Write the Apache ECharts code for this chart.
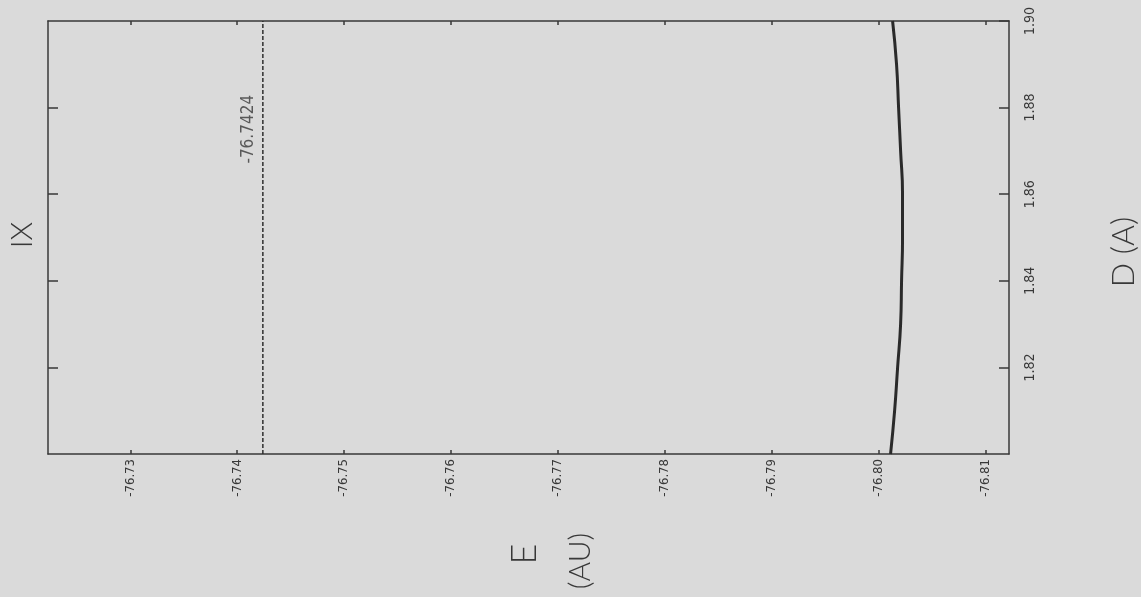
<!DOCTYPE html>
<html>
<head>
<meta charset="utf-8">
<script src="https://cdn.jsdelivr.net/npm/echarts@6/dist/echarts.min.js"></script>
<style>
  html, body { margin: 0; padding: 0; background: #dadada; }
  #chart { width: 1141px; height: 597px; }
</style>
</head>
<body>
<div id="chart"></div>
<script>
// Bond length D (Angstrom) and total energy E (atomic units) along the scan
const bondLengths = [1.80, 1.81, 1.82, 1.83, 1.84, 1.85, 1.86, 1.87, 1.88, 1.89, 1.90];
const energies = [-76.80112, -76.80150, -76.80178, -76.80206, -76.80215, -76.80224,
                  -76.80224, -76.80206, -76.80187, -76.80168, -76.80131];

// Reference energy drawn as a dashed vertical line
const referenceEnergy = -76.7424;
const referenceLabel = '-76.7424';

// Tick positions
const energyTicks = [-76.73, -76.74, -76.75, -76.76, -76.77, -76.78, -76.79, -76.80, -76.81];
const energyTickLabels = ['-76.73', '-76.74', '-76.75', '-76.76', '-76.77', '-76.78', '-76.79', '-76.80', '-76.81'];
const lengthTicks = [1.82, 1.84, 1.86, 1.88, 1.90];
const lengthTickLabels = ['1.82', '1.84', '1.86', '1.88', '1.90'];

const energyRange = [-76.8122, -76.7223];
const lengthRange = [1.80, 1.90];

const ink = '#383838';
const tickFont = '"Liberation Sans Narrow", "DejaVu Sans Condensed", "DejaVu Sans", sans-serif';
const titleFont = 'Lato, "DejaVu Sans", sans-serif';

const chart = echarts.init(document.getElementById('chart'), null, { renderer: 'canvas' });

function energyAxis(position, showLabels) {
  return {
    type: 'value',
    position: position,
    inverse: true,
    min: energyRange[0],
    max: energyRange[1],
    splitLine: { show: false },
    axisLine: { show: true, onZero: false, lineStyle: { color: ink, width: 1.5 } },
    axisTick: {
      show: true, inside: true, length: 4,
      customValues: energyTicks,
      lineStyle: { color: ink, width: 1.5 }
    },
    axisLabel: {
      show: showLabels,
      customValues: energyTicks,
      rotate: 90,
      margin: 5,
      color: ink,
      fontFamily: tickFont,
      fontSize: 13,
      formatter: function (v) {
        const i = energyTicks.findIndex(t => Math.abs(t - v) < 1e-6);
        return i >= 0 ? energyTickLabels[i] : '';
      }
    }
  };
}

function lengthAxis(position, showLabels) {
  return {
    type: 'value',
    position: position,
    min: lengthRange[0],
    max: lengthRange[1],
    splitLine: { show: false },
    axisLine: { show: true, onZero: false, lineStyle: { color: ink, width: 1.5 } },
    axisTick: {
      show: true, inside: true, length: 10,
      customValues: showLabels ? lengthTicks : lengthTicks.slice(0, 4),
      lineStyle: { color: ink, width: 1.5 }
    },
    axisLabel: {
      show: showLabels,
      customValues: lengthTicks,
      rotate: 90,
      margin: 14,
      color: ink,
      fontFamily: tickFont,
      fontSize: 14,
      formatter: function (v) {
        const i = lengthTicks.findIndex(t => Math.abs(t - v) < 1e-6);
        return i >= 0 ? lengthTickLabels[i] : '';
      }
    }
  };
}

const curve = bondLengths.map((d, i) => [energies[i], d]);

const option = {
  backgroundColor: '#dadada',
  animation: false,
  grid: { left: 48, right: 132, top: 21, bottom: 143 },
  xAxis: [energyAxis('bottom', true), energyAxis('top', false)],
  yAxis: [lengthAxis('left', false), lengthAxis('right', true)],
  series: [
    {
      type: 'line',
      xAxisIndex: 0,
      yAxisIndex: 1,
      data: curve,
      smooth: true,
      symbol: 'none',
      lineStyle: { color: '#2a2a2a', width: 3 }
    },
    {
      type: 'line',
      xAxisIndex: 0,
      yAxisIndex: 1,
      data: [[referenceEnergy, lengthRange[0]], [referenceEnergy, lengthRange[1]]],
      symbol: 'none',
      lineStyle: { color: '#2e2e2e', width: 1.5, type: [4, 2] }
    },
    {
      type: 'scatter',
      xAxisIndex: 0,
      yAxisIndex: 1,
      data: [[referenceEnergy, 1.875]],
      symbolSize: 0,
      label: {
        show: true,
        position: 'left',
        distance: 14,
        rotate: 90,
        align: 'center',
        verticalAlign: 'middle',
        color: ink,
        fontFamily: tickFont,
        fontSize: 17,
        formatter: referenceLabel
      }
    }
  ],
  graphic: [
    {
      type: 'text', x: 22, y: 235, rotation: Math.PI / 2,
      style: { text: 'IX', font: '300 30px ' + titleFont, fill: ink, align: 'center', verticalAlign: 'middle' }
    },
    {
      type: 'text', x: 524, y: 554, rotation: Math.PI / 2,
      style: { text: 'E', font: '300 36px ' + titleFont, fill: ink, align: 'center', verticalAlign: 'middle' }
    },
    {
      type: 'text', x: 580, y: 561, rotation: Math.PI / 2,
      style: { text: '(AU)', font: '300 30px ' + titleFont, fill: ink, align: 'center', verticalAlign: 'middle' }
    },
    {
      type: 'text', x: 1124, y: 252, rotation: Math.PI / 2,
      style: { text: 'D (A)', font: '300 32px ' + titleFont, fill: ink, align: 'center', verticalAlign: 'middle' }
    }
  ]
};

chart.setOption(option);
</script>
</body>
</html>
